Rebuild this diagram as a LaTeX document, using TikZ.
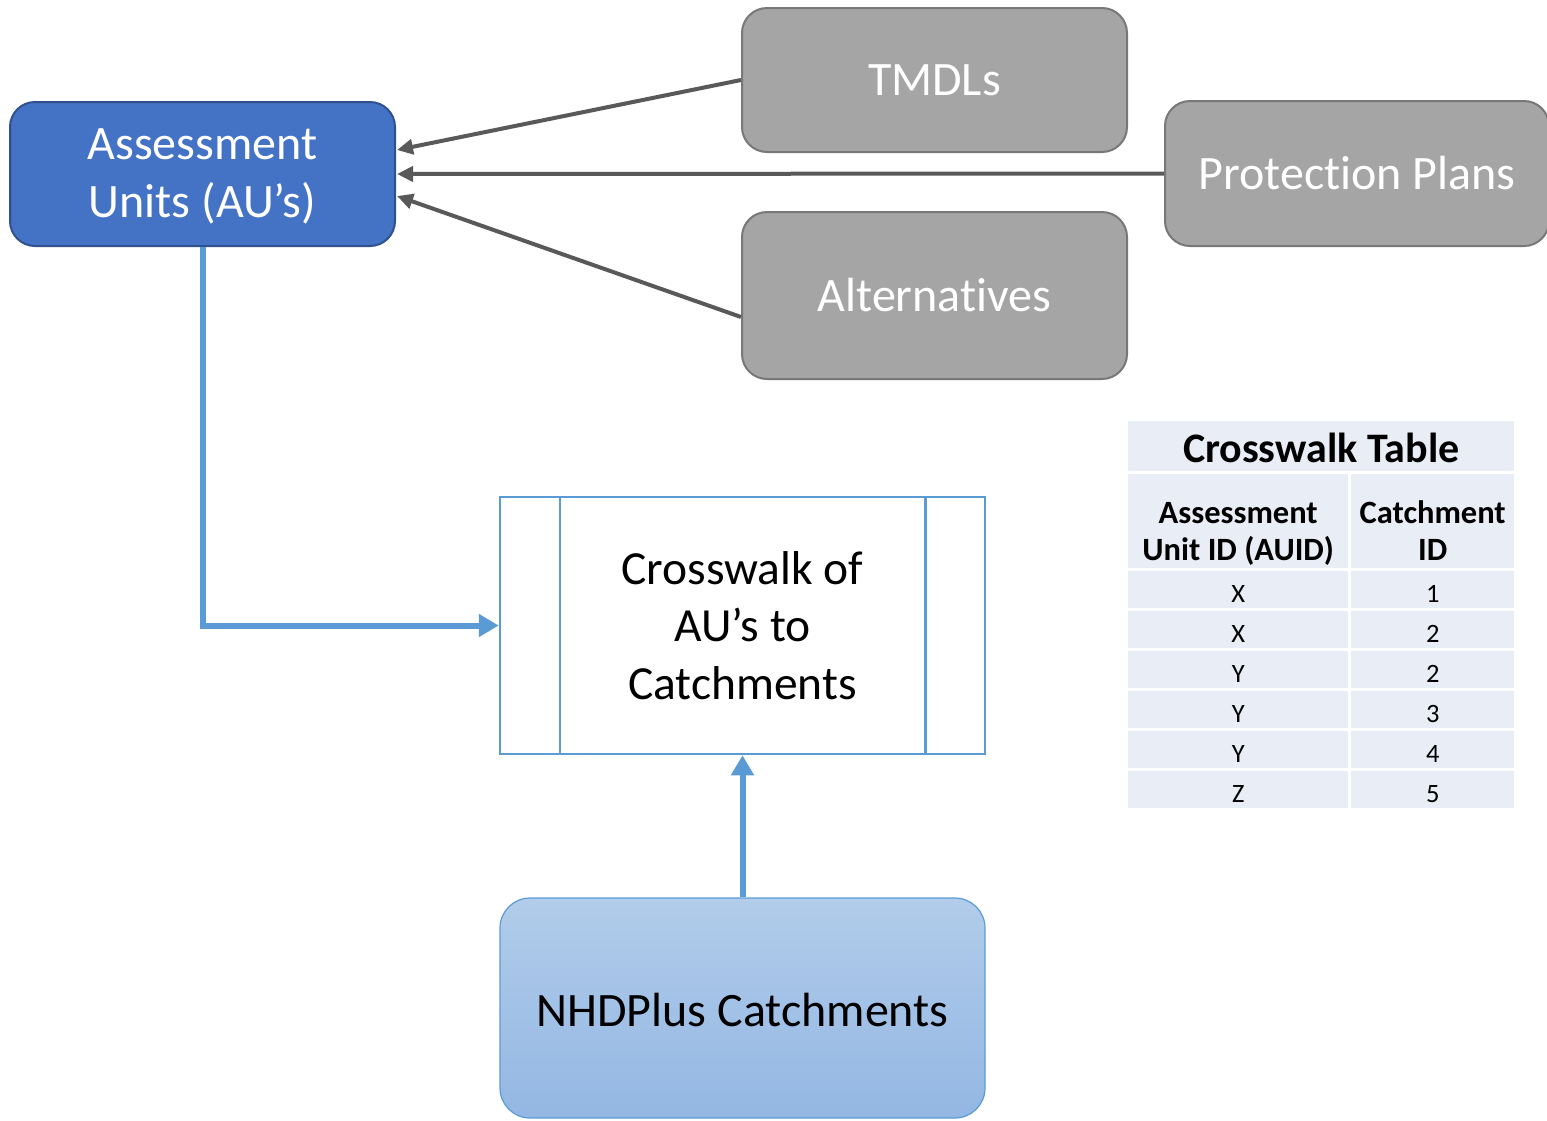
\documentclass[tikz,border=0pt]{standalone}
\usepackage{fontspec}
\setmainfont[Ligatures={NoCommon}]{Carlito}
\usetikzlibrary{arrows.meta,calc}
\definecolor{aublue}{HTML}{4472C4}
\definecolor{auborder}{HTML}{2F528F}
\definecolor{gfill}{HTML}{A5A5A5}
\definecolor{gborder}{HTML}{787878}
\definecolor{garrowc}{HTML}{595959}
\definecolor{lblue}{HTML}{5B9BD5}
\definecolor{ntop}{HTML}{B2CCEA}
\definecolor{nbot}{HTML}{93B7E3}
\definecolor{tbl}{HTML}{E9EDF5}
\tikzset{
  bigfont/.style={font=\fontsize{48}{56.5}\selectfont},
  aubox/.style={rectangle, rounded corners=25pt, fill=aublue, draw=auborder, line width=2pt, text=white, align=center, bigfont},
  graybox/.style={rectangle, rounded corners=25pt, fill=gfill, draw=gborder, line width=2pt, text=white, align=center, bigfont},
  cwbox/.style={rectangle, draw=lblue, line width=2.5pt, align=center, font=\fontsize{47.5}{57.5}\selectfont},
  nhdbox/.style={rectangle, rounded corners=30pt, top color=ntop, bottom color=nbot, draw=lblue, line width=1.2pt, align=center, bigfont},
  garrow/.style={draw=garrowc, line width=4pt, -{Triangle[length=16pt,width=15pt]}},
  barrow/.style={draw=lblue, line width=6pt, -{Triangle[length=20pt,width=22pt]}},
  cell/.style={rectangle, fill=tbl, anchor=north west, inner sep=0pt},
  ttext/.style={anchor=base, inner sep=0pt},
  titletext/.style={ttext, font=\bfseries\fontsize{42}{48}\selectfont},
  headtext/.style={ttext, font=\bfseries\fontsize{32.5}{37}\selectfont},
  datatext/.style={ttext, font=\fontsize{26.5}{30}\selectfont},
}
\begin{document}
\begin{tikzpicture}[x=1pt,y=-1pt]
\useasboundingbox (0,0) rectangle (1547,1120);

% nodes
\node[aubox, minimum width=385pt, minimum height=144pt] (au) at (202.5,174) {\rule{0pt}{36pt}Assessment\\[1pt]Units (AU’s)};
\node[graybox, minimum width=385pt, minimum height=144pt] (tmdl) at (934.5,80) {TMDLs};
\node[graybox, minimum width=384pt, minimum height=145pt] (prot) at (1357,173.5) {Protection Plans};
\node[graybox, minimum width=385pt, minimum height=167pt] (alt) at (934.5,295.5) {Alternatives};

\node[cwbox, minimum width=485pt, minimum height=257pt] (cw) at (742.5,625.5) {Crosswalk of\\AU’s to\\Catchments};
\draw[lblue, line width=2.5pt] ($(cw.north west)+(61,0)$) -- ($(cw.south west)+(61,0)$);
\draw[lblue, line width=2.5pt] ($(cw.north east)+(-61,0)$) -- ($(cw.south east)+(-61,0)$);

\node[nhdbox, minimum width=485pt, minimum height=220pt] (nhd) at (742.5,1008) {\rule{0pt}{38pt}NHDPlus Catchments};

% connectors
\draw[garrow] (tmdl.west) -- ($(au.east)+(1,-24)$);
\draw[garrow] (prot.west) -- ($(au.east)+(1,0)$);
\draw[garrow] ($(alt.west)+(0,21.5)$) -- ($(au.east)+(1,22)$);
\draw[barrow] (au.south) |- (cw.west);
\draw[barrow] (nhd.north) -- (cw.south);

% table
\node[cell, minimum width=386pt, minimum height=50pt] (t0) at (1128,421) {};
\node[titletext] (t0t) at ($(t0.north)+(0,41)$) {Crosswalk Table};
\node[cell, minimum width=220pt, minimum height=94pt] (h1) at (1128,474) {};
\node[cell, minimum width=163pt, minimum height=94pt] (h2) at (1351,474) {};
\node[headtext] (h1a) at ($(h1.north)+(0,49)$) {Assessment};
\node[headtext] (h1b) at ($(h1.north)+(0,86)$) {Unit ID (AUID)};
\node[headtext] (h2a) at ($(h2.north)+(0,49)$) {Catchment};
\node[headtext] (h2b) at ($(h2.north)+(0,86)$) {ID};
\foreach \a/\b [count=\i from 0] in {X/1,X/2,Y/2,Y/3,Y/4,Z/5}{
  \node[cell, minimum width=220pt, minimum height=37pt] (l\i) at (1128,571+40*\i) {};
  \node[cell, minimum width=163pt, minimum height=37pt] (r\i) at (1351,571+40*\i) {};
  \node[datatext] (lt\i) at ($(l\i.north)+(0,31)$) {\a};
  \node[datatext] (rt\i) at ($(r\i.north)+(0,31)$) {\b};
}
\end{tikzpicture}
\end{document}
